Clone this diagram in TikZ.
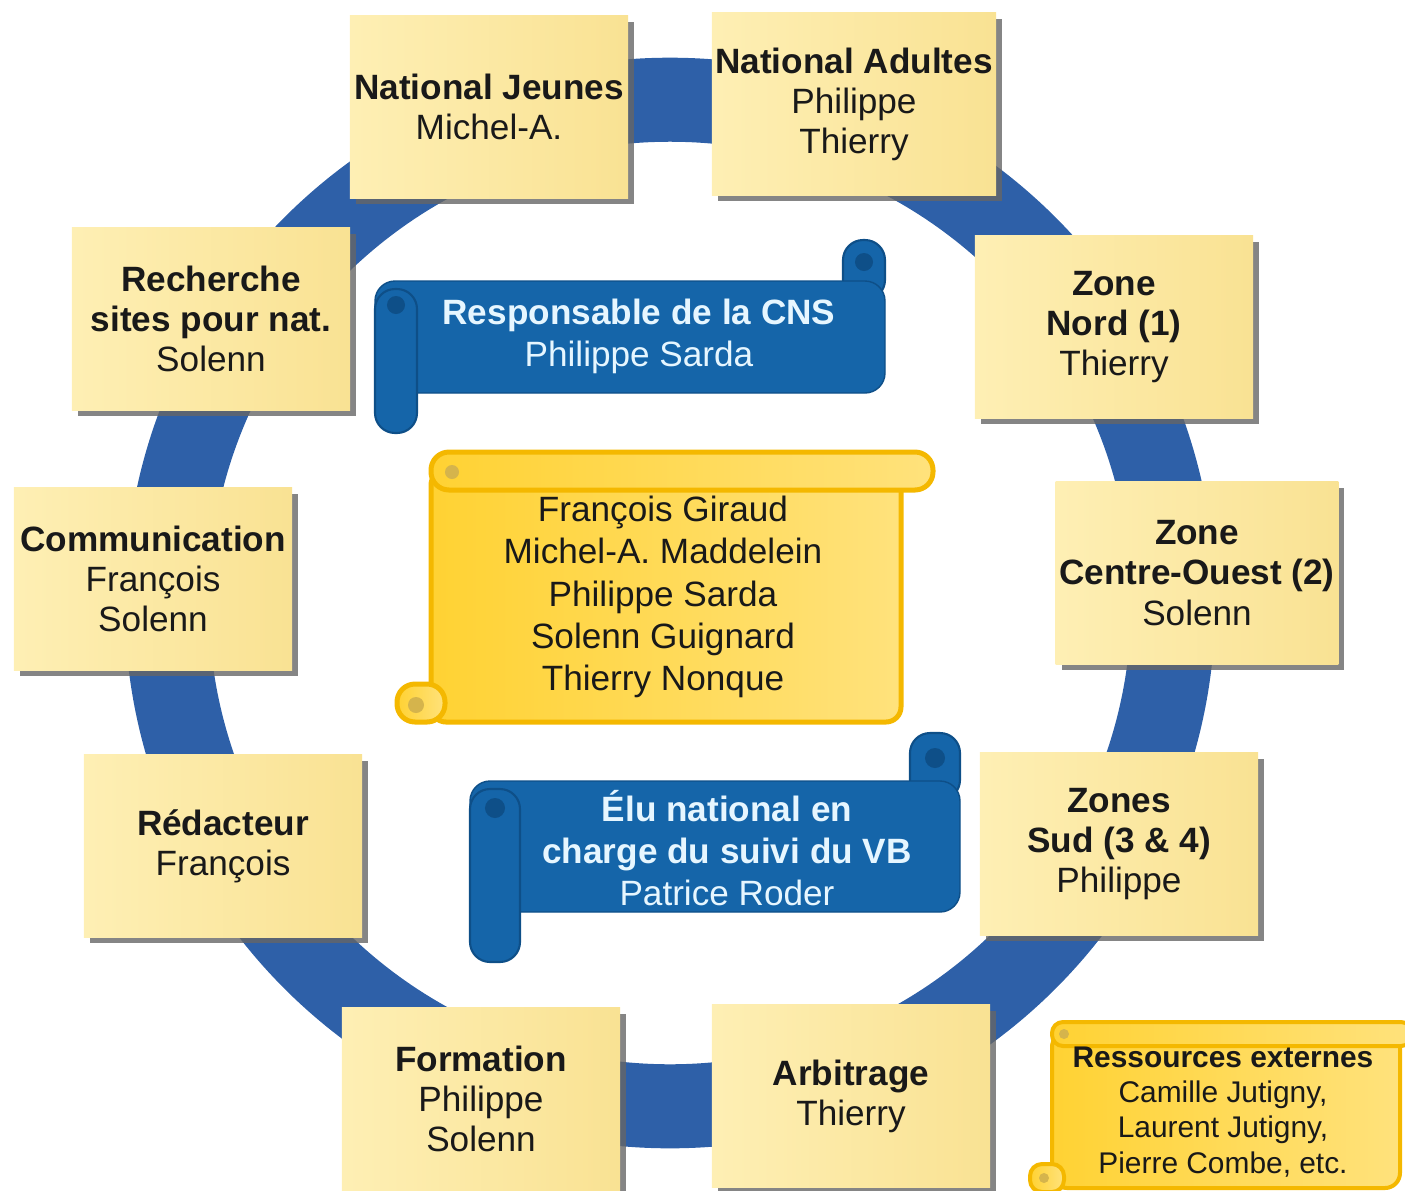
\documentclass[tikz,border=0pt]{standalone}
\usepackage{fontspec}
\setmainfont{Liberation Sans}
\usetikzlibrary{shadows}
\definecolor{ringblue}{HTML}{2E60A8}
\definecolor{scrollblue}{HTML}{1565A9}
\definecolor{scrolledge}{HTML}{0E4F88}
\definecolor{bluetxt}{HTML}{E6F6FF}
\definecolor{notelight}{HTML}{FEEFB4}
\definecolor{notedark}{HTML}{F9E293}
\definecolor{scrolllight}{HTML}{FFE27C}
\definecolor{scrolldark}{HTML}{FFD233}
\definecolor{scrollrim}{HTML}{F4B800}
\begin{document}
\begin{tikzpicture}[x=0.01cm, y=-0.01cm,
    ring/.style={draw=ringblue, line width=0.84cm},
    note/.style={left color=notelight, right color=notedark, minimum width=2.78cm,
      minimum height=1.82cm, align=center, inner sep=1pt, text=black!90,
      font=\fontsize{10}{11.4}\selectfont,
      drop shadow={shadow xshift=0.06cm, shadow yshift=-0.06cm, fill=black!60, opacity=0.8}},
    bluebody/.style={fill=scrollblue, draw=scrolledge, line width=0.4pt, rounded corners=0.2cm},
    blueroll/.style={fill=scrollblue, draw=scrolledge, line width=0.6pt, rounded corners=0.2cm},
    bluecurl/.style={fill=scrolledge},
    yellowbody/.style={left color=scrolldark, right color=scrolllight, draw=scrollrim, line width=0.05cm, rounded corners=0.15cm},
    yellowroll/.style={left color=scrolldark, right color=scrolllight, draw=scrollrim, line width=0.05cm, rounded corners=0.18cm},
    yellowcurl/.style={fill=scrollrim!80!black!70},
    bluetext/.style={text=bluetxt, align=center, font=\fontsize{10}{12}\selectfont},
    yellowtext/.style={text=black!90, align=center, font=\fontsize{10}{12}\selectfont}]
  \useasboundingbox (0,0) rectangle (1405,1190);
  \draw[ring] (670,603) circle (5.03cm);

  \draw
    (489,107) node[note] (natjeunes) {\textbf{National Jeunes}\\Michel-A.}
    (854,104) node[note] (natadultes) {\textbf{National Adultes}\\Philippe\\Thierry}
    (211,319) node[note] (recherche) {\textbf{Recherche}\\\textbf{sites pour nat.}\\Solenn}
    (1114,327) node[note] (zonenord) {\textbf{Zone}\\\textbf{Nord (1)}\\Thierry}
    (153,579) node[note] (communication) {\textbf{Communication}\\François\\Solenn}
    (1197,573) node[note] (centreouest) {\textbf{Zone}\\\textbf{Centre-Ouest (2)}\\Solenn}
    (223,846) node[note] (redacteur) {\textbf{Rédacteur}\\François}
    (1119,844) node[note] (zonesud) {\textbf{Zones}\\\textbf{Sud (3 \& 4)}\\Philippe}
    (481,1099) node[note] (formation) {\textbf{Formation}\\Philippe\\Solenn}
    (851,1096) node[note] (arbitrage) {\textbf{Arbitrage}\\Thierry};

  \begin{scope}
    \filldraw[blueroll] (843,240) rectangle (885,300);
    \fill[bluecurl] (864,262) circle (0.09cm);
    \filldraw[bluebody] (375,281) rectangle (885,393);
    \filldraw[blueroll] (375,289) rectangle (417,433);
    \fill[bluecurl] (396,305) circle (0.09cm);
    \node[bluetext] (resp) at (639,336) {\textbf{Responsable de la CNS}\\Philippe Sarda};
  \end{scope}

  \begin{scope}
    \filldraw[yellowbody] (431,470) rectangle (901,722);
    \filldraw[yellowroll] (431,452) rectangle (933,490);
    \filldraw[yellowroll] (397,684) rectangle (445,722);
    \fill[yellowcurl] (452,472) circle (0.07cm);
    \fill[yellowcurl] (416,705) circle (0.08cm);
    \node[yellowtext] (comite) at (663,597)
      {François Giraud\\Michel-A. Maddelein\\Philippe Sarda\\Solenn Guignard\\Thierry Nonque};
  \end{scope}

  \begin{scope}
    \filldraw[blueroll] (910,733) rectangle (960,800);
    \fill[bluecurl] (935,758) circle (0.1cm);
    \filldraw[bluebody] (470,781) rectangle (960,912);
    \filldraw[blueroll] (470,789) rectangle (520,962);
    \fill[bluecurl] (495,808) circle (0.1cm);
    \node[bluetext] (elu) at (727,848)
      {\textbf{Élu national en}\\\textbf{charge du suivi du VB}\\Patrice Roder};
  \end{scope}

  \begin{scope}
    \filldraw[yellowbody, line width=0.04cm] (1052,1032) rectangle (1400,1188);
    \filldraw[yellowroll, line width=0.04cm, rounded corners=0.11cm] (1052,1022) rectangle (1412,1046);
    \filldraw[yellowroll, line width=0.04cm, rounded corners=0.12cm] (1030,1164) rectangle (1064,1192);
    \fill[yellowcurl] (1064,1034) circle (0.05cm);
    \fill[yellowcurl] (1044,1178) circle (0.05cm);
    \node[yellowtext, font=\fontsize{8.5}{10}\selectfont] (ressources) at (1223,1112)
      {\textbf{Ressources externes}\\Camille Jutigny,\\Laurent Jutigny,\\Pierre Combe, etc.};
  \end{scope}
\end{tikzpicture}
\end{document}
